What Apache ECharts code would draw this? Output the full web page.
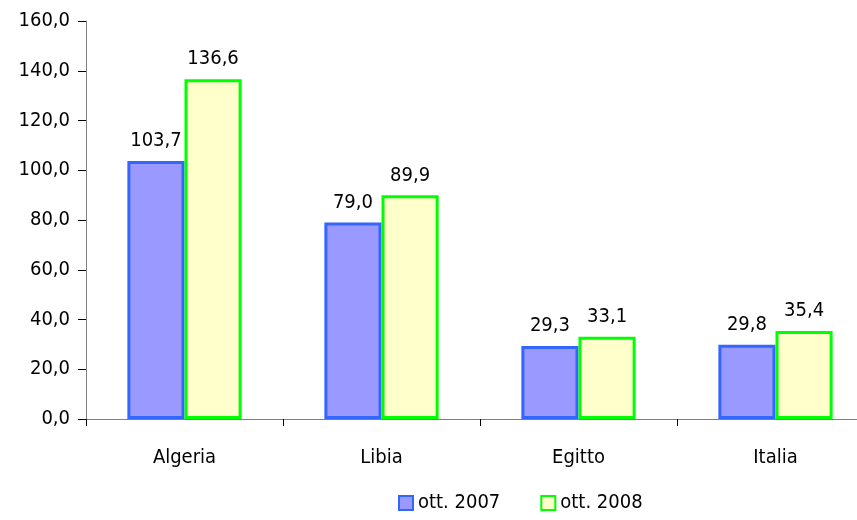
<!DOCTYPE html>
<html>
<head>
<meta charset="utf-8">
<script src="https://cdn.jsdelivr.net/npm/echarts@6/dist/echarts.min.js"></script>
<style>
html, body { margin: 0; padding: 0; background: #fff; }
#main { width: 857px; height: 520px; }
</style>
</head>
<body>
<div id="main"></div>
<script>
var categories = ['Algeria', 'Libia', 'Egitto', 'Italia'];
var values2007 = [103.7, 79.0, 29.3, 29.8];
var values2008 = [136.6, 89.9, 33.1, 35.4];
var seriesNames = ['ott. 2007', 'ott. 2008'];

var font = '"DejaVu Sans Condensed", "Liberation Sans Narrow", "Liberation Sans", sans-serif';

function fmt(v) {
    return v.toFixed(1).replace('.', ',');
}

var myChart = echarts.init(document.getElementById('main'));

var option = {
    animation: false,
    textStyle: { fontFamily: font },
    grid: {
        left: 86,
        width: 788,
        top: 21,
        bottom: 101,
        containLabel: false,
        outerBoundsMode: 'none'
    },
    legend: {
        bottom: 2,
        left: 393,
        itemWidth: 14,
        itemHeight: 14,
        itemGap: 40,
        textStyle: { fontFamily: font, fontSize: 20, color: '#000' },
        data: [
            { name: seriesNames[0], icon: 'rect', itemStyle: { color: '#9999FF', borderColor: '#3366FF', borderWidth: 2 } },
            { name: seriesNames[1], icon: 'rect', itemStyle: { color: '#FFFFCC', borderColor: '#00FF00', borderWidth: 2 } }
        ]
    },
    xAxis: {
        type: 'category',
        data: categories,
        axisLine: { lineStyle: { color: '#808080', width: 1 } },
        axisTick: { show: true, length: 7, lineStyle: { color: '#000' } },
        axisLabel: { fontFamily: font, fontSize: 20, color: '#000', margin: 29 }
    },
    yAxis: {
        type: 'value',
        min: 0,
        max: 160,
        interval: 20,
        splitLine: { show: false },
        axisLine: { show: true, lineStyle: { color: '#808080' } },
        axisTick: { show: true, length: 8, lineStyle: { color: '#000' } },
        axisLabel: {
            fontFamily: font, fontSize: 20, color: '#000', margin: 16,
            formatter: function (v) { return fmt(v); }
        }
    },
    series: [
        {
            name: seriesNames[0],
            type: 'bar',
            data: values2007,
            barGap: '0%',
            barCategoryGap: '42%',
            itemStyle: { color: '#9999FF', borderColor: '#3366FF', borderWidth: 3 },
            label: {
                show: true, position: 'top', distance: 10,
                fontFamily: font, fontSize: 20, color: '#000',
                formatter: function (p) { return fmt(p.value); }
            }
        },
        {
            name: seriesNames[1],
            type: 'bar',
            data: values2008,
            barGap: '0%',
            barCategoryGap: '42%',
            itemStyle: { color: '#FFFFCC', borderColor: '#00FF00', borderWidth: 3 },
            label: {
                show: true, position: 'top', distance: 10,
                fontFamily: font, fontSize: 20, color: '#000',
                formatter: function (p) { return fmt(p.value); }
            }
        }
    ]
};

myChart.setOption(option);
window.onresize = myChart.resize;
</script>
</body>
</html>
